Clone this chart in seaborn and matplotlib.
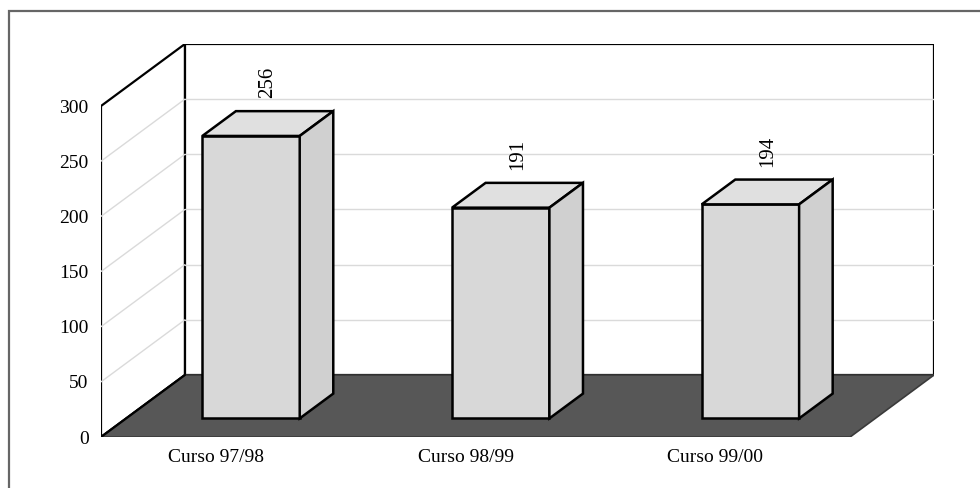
import numpy as np
import matplotlib
matplotlib.use("Agg")
import matplotlib.pyplot as plt
from matplotlib.patches import Polygon, Rectangle
import seaborn as sns

# datos
cursos = ["Curso 97/98", "Curso 98/99", "Curso 99/00"]
alumnos = [256, 191, 194]
y_ticks = [0, 50, 100, 150, 200, 250, 300]

# geometria del efecto 3D (en unidades de datos)
ymax = 300
dx, dy = 0.336, 56.2          # profundidad total de la caja
f0, f1 = 0.3, 0.7             # posicion de las barras dentro de la profundidad
bar_w = 0.39

sns.set_style("white")
plt.rcParams["font.family"] = ["Liberation Serif", "DejaVu Serif"]
plt.rcParams["text.color"] = "black"
plt.rcParams["xtick.color"] = "black"
plt.rcParams["ytick.color"] = "black"

fig = plt.figure(figsize=(9.8, 4.88), dpi=100)
ax = fig.add_axes([101 / 980, 51 / 488, 833 / 980, 393 / 488])

# marco exterior
fig.patches.append(Rectangle((9 / 980, -0.1), 1.2, 1.1 - 11 / 488,
                             transform=fig.transFigure, fill=False,
                             edgecolor="#666666", linewidth=1.6))

x0, x1 = -0.5, len(cursos) - 0.5
grid_c = "#dadada"

# pared trasera
ax.add_patch(Rectangle((x0 + dx, dy), x1 - x0, ymax, facecolor="white",
                       edgecolor="black", linewidth=1.6, zorder=0.5))
# pared izquierda
ax.add_patch(Polygon([(x0, 0), (x0, ymax), (x0 + dx, ymax + dy), (x0 + dx, dy)],
                     closed=True, facecolor="white", edgecolor="black",
                     linewidth=1.6, zorder=0.6))
for v in y_ticks[1:-1]:
    ax.plot([x0, x0 + dx], [v, v + dy], color=grid_c, lw=1, zorder=0.7)
    ax.plot([x0 + dx, x1 + dx], [v + dy, v + dy], color=grid_c, lw=1, zorder=0.7)

# suelo
ax.add_patch(Polygon([(x0, 0), (x0 + dx, dy), (x1 + dx, dy), (x1, 0)],
                     closed=True, facecolor="#575757", edgecolor="#3a3a3a",
                     linewidth=1.2, zorder=0.8))
ax.plot([x0, x0 + dx], [0, dy], color="black", lw=1.6, zorder=0.9)

# barras
sns.barplot(x=cursos, y=alumnos, color="#d8d8d8", width=bar_w, ax=ax,
            edgecolor="black", linewidth=1.8, saturation=1, zorder=2)

bx, by = (f1 - f0) * dx, (f1 - f0) * dy
for p, v in zip(ax.patches[-len(alumnos):], alumnos):
    p.set_x(p.get_x() + f0 * dx)
    p.set_y(f0 * dy)
    xl, xr = p.get_x(), p.get_x() + p.get_width()
    bot, top = f0 * dy, f0 * dy + v
    ax.add_patch(Polygon([(xl, top), (xr, top), (xr + bx, top + by), (xl + bx, top + by)],
                         closed=True, facecolor="#e0e0e0", edgecolor="black",
                         linewidth=1.8, zorder=2))
    ax.add_patch(Polygon([(xr, bot), (xr, top), (xr + bx, top + by), (xr + bx, bot + by)],
                         closed=True, facecolor="#d0d0d0", edgecolor="black",
                         linewidth=1.8, zorder=2))
    cx = (xl + xr) / 2 + 0.5 * bx
    ax.text(cx, top + 0.5 * by + 23, str(v), rotation=90, ha="center", va="bottom",
            fontsize=15, zorder=3)

ax.set_xlim(x0, x1 + dx)
ax.set_ylim(0, ymax + dy)
ax.set_yticks(y_ticks)
ax.set_yticklabels([str(t) for t in y_ticks])
ax.set_xticks(np.arange(len(cursos)) - 0.04)
ax.set_xticklabels(cursos)
ax.tick_params(length=0, labelsize=14)
ax.tick_params(axis="y", pad=9)
ax.tick_params(axis="x", pad=9)
ax.set_xlabel("")
ax.set_ylabel("")
for s in ax.spines.values():
    s.set_visible(False)
ax.patch.set_alpha(0)

fig.savefig("out.png", dpi=100)
